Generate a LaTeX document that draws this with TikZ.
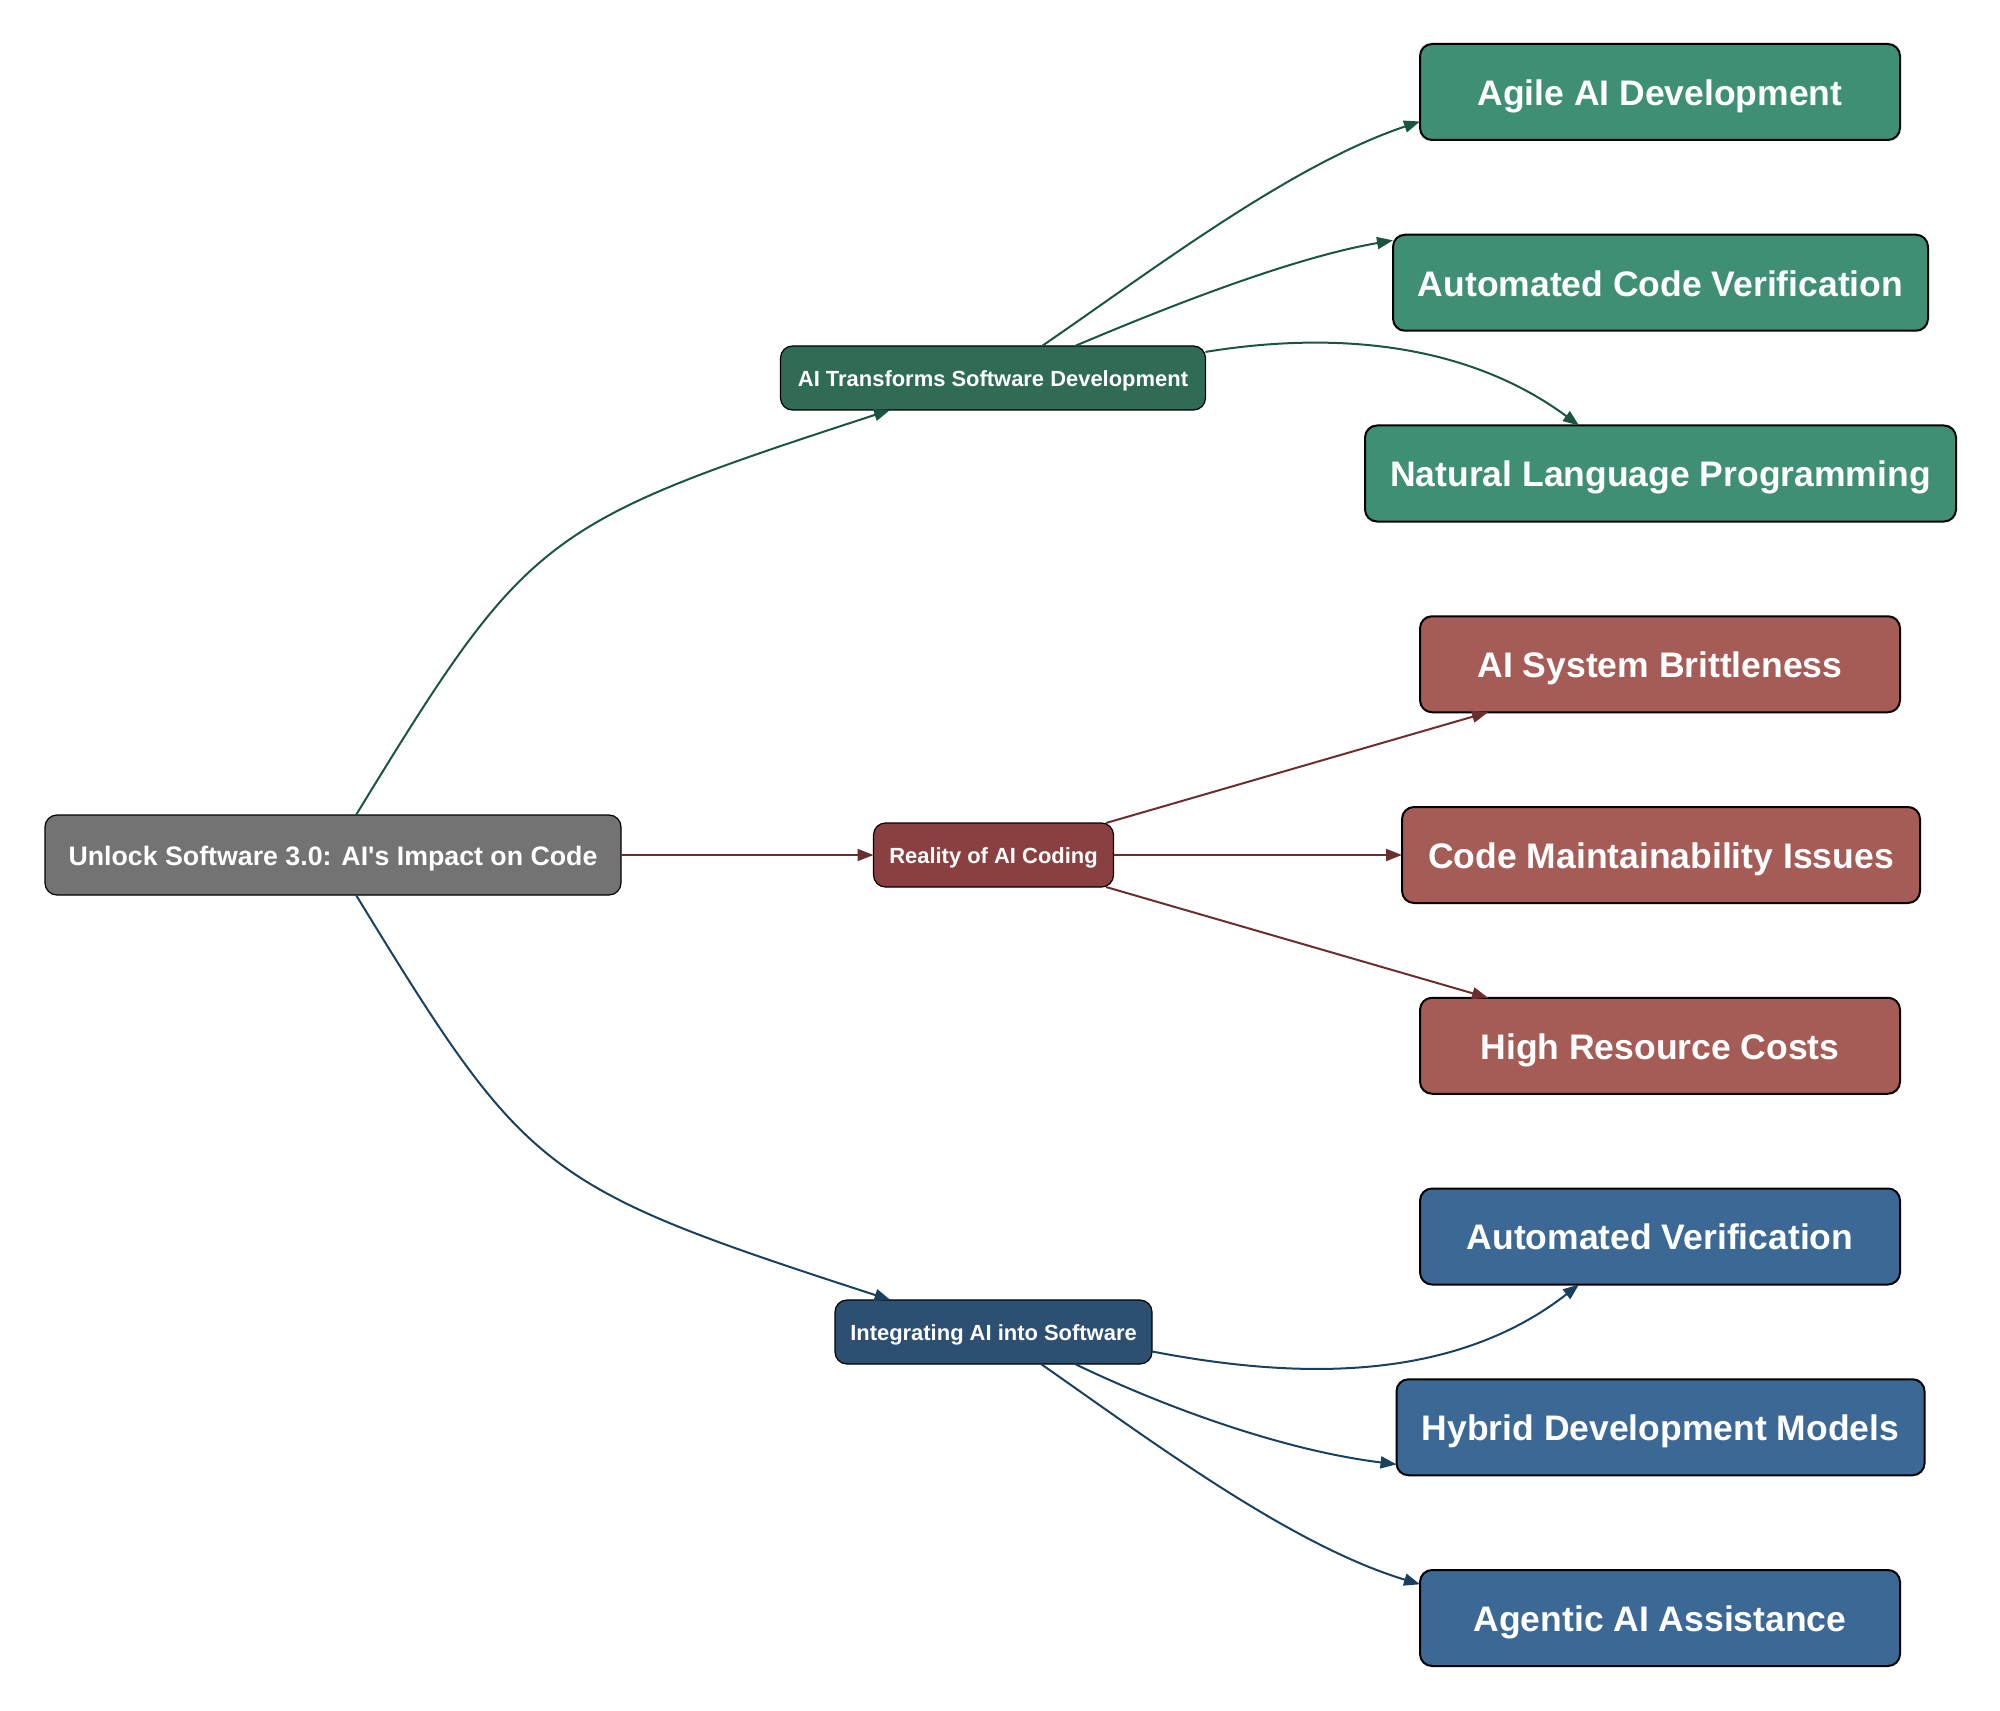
\documentclass[tikz,border=0pt]{standalone}
\usepackage{fontspec}
\setmainfont{Liberation Sans}
\usetikzlibrary{calc,arrows.meta}
\definecolor{rootfill}{HTML}{737373}
\definecolor{greenmid}{HTML}{2F6B55}
\definecolor{greenleaf}{HTML}{3F8F75}
\definecolor{greenedge}{HTML}{1C5444}
\definecolor{redmid}{HTML}{8A4040}
\definecolor{redleaf}{HTML}{A65C56}
\definecolor{rededge}{HTML}{6A2E2E}
\definecolor{bluemid}{HTML}{2C4F72}
\definecolor{blueleaf}{HTML}{3B6895}
\definecolor{blueedge}{HTML}{1A4060}
\tikzstyle{box}       = [rectangle, rounded corners=6pt, draw=black, text=white, outer sep=0pt, inner sep=0pt, text depth=0pt]
\tikzstyle{rootbox}   = [box, fill=rootfill, minimum height=40pt, line width=0.6pt, text height=10.9pt, font=\bfseries\fontsize{13.37}{15}\selectfont]
\tikzstyle{midbox}    = [box, minimum height=32pt, line width=0.6pt, text height=8.6pt, font=\bfseries\fontsize{10.97}{13}\selectfont]
\tikzstyle{leafbox}   = [box, minimum height=48pt, line width=1pt, text height=13.4pt, font=\bfseries\fontsize{17.75}{20}\selectfont]
\tikzstyle{arrow}     = [line width=1pt,-{Stealth[length=8pt,width=6pt,inset=0pt]}]
\begin{document}
\begin{tikzpicture}[x=0.5pt,y=-0.5pt]
        \useasboundingbox (0,0) rectangle (2000,1711);

        \node[rootbox, minimum width=288pt] (root) at (333,855) {Unlock Software 3.0: AI\textquotesingle s Impact on Code};

        \node[midbox, fill=greenmid, minimum width=212.5pt] (transforms) at (993,378) {AI Transforms Software Development};
        \node[midbox, fill=redmid, minimum width=120pt] (reality) at (993.5,855) {Reality of AI Coding};
        \node[midbox, fill=bluemid, minimum width=158.5pt] (integrating) at (993.5,1332) {Integrating AI into Software};

        \node[leafbox, fill=greenleaf, minimum width=240pt] (agile) at (1660,92) {Agile AI Development};
        \node[leafbox, fill=greenleaf, minimum width=267.5pt] (codeverif) at (1660.5,282.75) {Automated Code Verification};
        \node[leafbox, fill=greenleaf, minimum width=295.5pt] (natural) at (1660.5,473.5) {Natural Language Programming};

        \node[leafbox, fill=redleaf, minimum width=240pt] (brittle) at (1660,664.25) {AI System Brittleness};
        \node[leafbox, fill=redleaf, minimum width=259pt] (maintain) at (1661,855) {Code Maintainability Issues};
        \node[leafbox, fill=redleaf, minimum width=240pt] (costs) at (1660,1045.75) {High Resource Costs};

        \node[leafbox, fill=blueleaf, minimum width=240pt] (autoverif) at (1660,1236.5) {Automated Verification};
        \node[leafbox, fill=blueleaf, minimum width=264pt] (hybrid) at (1660.5,1427.25) {Hybrid Development Models};
        \node[leafbox, fill=blueleaf, minimum width=240pt] (agentic) at (1660,1618) {Agentic AI Assistance};

        \draw[arrow, greenedge] ($(root.north)+(23,0)$) .. controls (528,534) and (540,524) .. ($(transforms.south)+(-103,0)$);
        \draw[arrow, rededge] (root.east) -- (reality.west);
        \draw[arrow, blueedge] ($(root.south)+(23,0)$) .. controls (528,1176) and (540,1186) .. ($(integrating.north)+(-103,0)$);

        \draw[arrow, greenedge] ($(transforms.north)+(49,0)$) .. controls (1150,272) and (1290,165) .. (agile.187.6);
        \draw[arrow, greenedge] ($(transforms.north)+(82,0)$) .. controls (1160,310) and (1290,258) .. (codeverif.171.7);
        \draw[arrow, greenedge] (transforms.7.75) .. controls (1340,330) and (1470,345) .. ($(natural.north)+(-81.5,0)$);

        \draw[arrow, rededge] ($(reality.north)+(112.5,0)$) -- ($(brittle.south)+(-172,0)$);
        \draw[arrow, rededge] (reality.east) -- (maintain.west);
        \draw[arrow, rededge] ($(reality.south)+(112.5,0)$) -- ($(costs.north)+(-172,0)$);

        \draw[arrow, blueedge] (integrating.-7.9) .. controls (1290,1378) and (1450,1385) .. ($(autoverif.south)+(-81,0)$);
        \draw[arrow, blueedge] ($(integrating.south)+(81.5,0)$) .. controls (1160,1405) and (1280,1450) .. (hybrid.188.4);
        \draw[arrow, blueedge] ($(integrating.south)+(47.5,0)$) .. controls (1150,1440) and (1290,1545) .. (agentic.172.4);
    \end{tikzpicture}
\end{document}
